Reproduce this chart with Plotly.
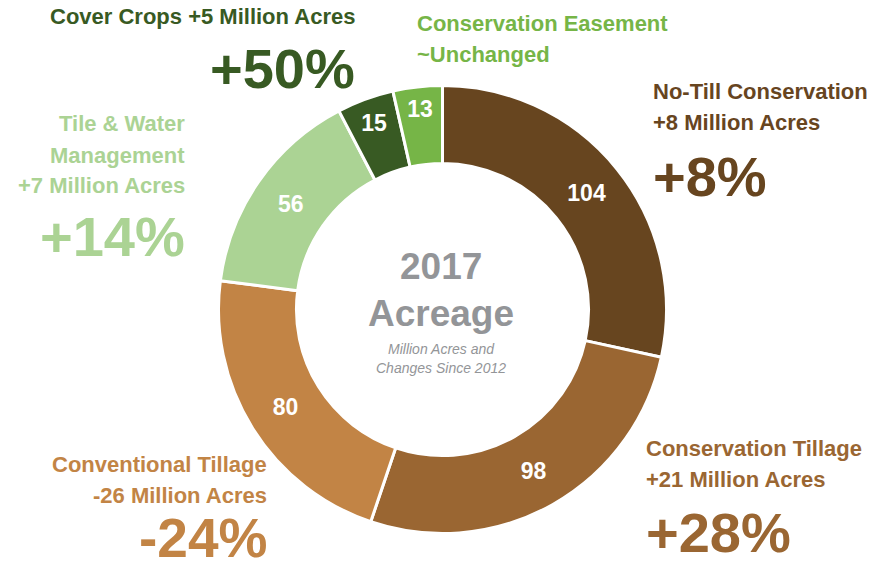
import plotly.graph_objects as go

# ---- data ----
categories = ["No-Till Conservation", "Conservation Tillage", "Conventional Tillage",
              "Tile & Water Management", "Cover Crops", "Conservation Easement"]
acres_2017 = [104, 98, 80, 56, 15, 13]
change_acres = ["+8 Million Acres", "+21 Million Acres", "-26 Million Acres",
                "+7 Million Acres", "+5 Million Acres", "~Unchanged"]
change_pct = ["+8%", "+28%", "-24%", "+14%", "+50%", ""]
colors = ["#67451F", "#9A6632", "#C28445", "#ABD394", "#385A23", "#76B547"]

W, H = 870, 571
FONT = "Liberation Sans, Arial, sans-serif"


def px(x):
    return x / W


def py(y):
    return 1 - y / H


fig = go.Figure(go.Pie(
    values=acres_2017,
    labels=categories,
    text=[str(v) for v in acres_2017],
    textinfo="text",
    textposition="inside",
    insidetextorientation="horizontal",
    textfont=dict(family=FONT, size=23, color="white", weight="bold"),
    marker=dict(colors=colors, line=dict(color="white", width=3)),
    hole=0.652,
    sort=False,
    direction="clockwise",
    rotation=0,
    showlegend=False,
    hoverinfo="label+value",
    domain=dict(x=[px(218), px(667)], y=[py(533.5), py(85.5)]),
))

annotations = []


def add(text, x, y, color, size, anchor, italic=False, bold=True, yanchor="middle"):
    annotations.append(dict(
        text=text, x=px(x), y=py(y), xref="paper", yref="paper",
        xanchor=anchor, yanchor=yanchor, showarrow=False,
        font=dict(family=FONT, size=size, color=color,
                  weight="bold" if bold else "normal",
                  style="italic" if italic else "normal"),
    ))


LS = 22   # label font size
PS = 56   # percent font size

# No-Till Conservation (right top)
add(categories[0], 651, 91, colors[0], LS, "left")
add(change_acres[0], 651, 122, colors[0], LS, "left")
add(change_pct[0], 651, 176, colors[0], PS, "left")

# Conservation Tillage (right bottom)
add(categories[1], 644, 448, colors[1], LS, "left")
add(change_acres[1], 644, 479, colors[1], LS, "left")
add(change_pct[1], 644, 532, colors[1], PS, "left")

# Conventional Tillage (left bottom)
add(categories[2], 269, 464, colors[2], LS, "right")
add(change_acres[2], 269, 495, colors[2], LS, "right")
add(change_pct[2], 269, 571, colors[2], 55, "right", yanchor="bottom")

# Tile & Water Management (left top)
add("Tile & Water", 187, 124, colors[3], LS, "right")
add("Management", 187, 155, colors[3], LS, "right")
add(change_acres[3], 187, 185, colors[3], LS, "right")
add(change_pct[3], 187, 236, colors[3], PS, "right")

# Cover Crops (top left)
add(categories[4] + " " + change_acres[4], 357, 17, colors[4], LS, "right")
add(change_pct[4], 357, 68, colors[4], PS, "right")

# Conservation Easement (top)
add(categories[5], 415, 24, colors[5], LS, "left")
add(change_acres[5], 415, 55, colors[5], LS, "left")

# Center text
GRAY = "#939598"
add("2017", 441, 266, GRAY, 37, "center")
add("Acreage", 441, 313, GRAY, 37, "center")
add("Million Acres and", 441, 349, GRAY, 14, "center", italic=True, bold=False)
add("Changes Since 2012", 441, 368, GRAY, 14, "center", italic=True, bold=False)

fig.update_layout(
    width=W, height=H,
    margin=dict(l=0, r=0, t=0, b=0),
    paper_bgcolor="white",
    plot_bgcolor="white",
    annotations=annotations,
)

fig.write_html("out.html")
